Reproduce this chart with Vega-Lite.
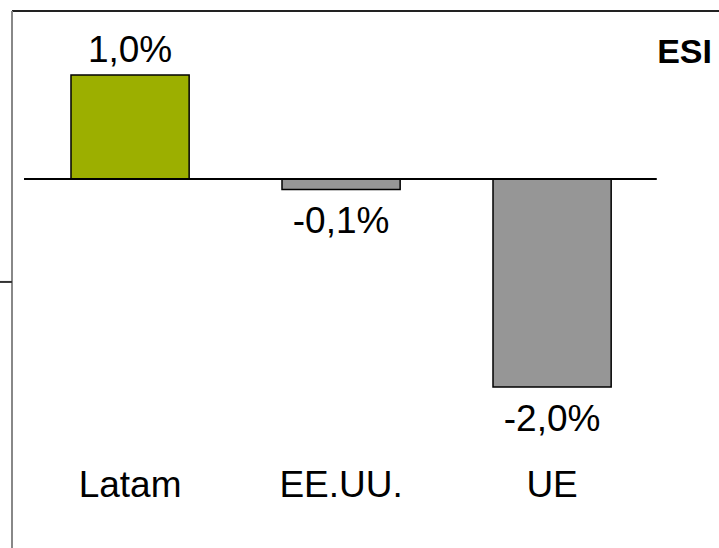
{
  "$schema": "https://vega.github.io/schema/vega-lite/v6.json",
  "width": 707,
  "height": 537,
  "autosize": {"type": "none"},
  "padding": {"left": 12, "top": 11, "right": 0, "bottom": 0},
  "background": "white",
  "config": {"view": {"stroke": null}, "text": {"font": "Liberation Sans"}},
  "data": {"values": [
    {"region": "Latam", "value": 1.0, "label": "1,0%"},
    {"region": "EE.UU.", "value": -0.1, "label": "-0,1%"},
    {"region": "UE", "value": -2.0, "label": "-2,0%"}
  ]},
  "resolve": {"scale": {"x": "independent"}},
  "layer": [
    {
      "layer": [
        {
          "mark": {"type": "bar", "stroke": "#000000", "strokeWidth": 1.5},
          "encoding": {
            "x": {"field": "region", "type": "nominal", "sort": null, "axis": null,
                  "scale": {"paddingInner": 0.44, "paddingOuter": 0.3953, "align": 0.3536}},
            "y": {"field": "value", "type": "quantitative", "axis": null,
                  "scale": {"domain": [-3.548, 1.615], "nice": false}},
            "color": {"field": "region", "type": "nominal", "legend": null,
                      "scale": {"domain": ["Latam", "EE.UU.", "UE"], "range": ["#9CAF00", "#969696", "#969696"]}}
          }
        },
        {
          "transform": [{"filter": "datum.value >= 0"}],
          "mark": {"type": "text", "baseline": "alphabetic", "dy": -13, "fontSize": 37, "color": "#000000"},
          "encoding": {
            "x": {"field": "region", "type": "nominal", "sort": null, "axis": null},
            "y": {"field": "value", "type": "quantitative"},
            "text": {"field": "label"}
          }
        },
        {
          "transform": [{"filter": "datum.value < 0"}],
          "mark": {"type": "text", "baseline": "alphabetic", "dy": 44, "fontSize": 37, "color": "#000000"},
          "encoding": {
            "x": {"field": "region", "type": "nominal", "sort": null, "axis": null},
            "y": {"field": "value", "type": "quantitative"},
            "text": {"field": "label"}
          }
        },
        {
          "mark": {"type": "text", "baseline": "alphabetic", "fontSize": 37, "color": "#000000"},
          "encoding": {
            "x": {"field": "region", "type": "nominal", "sort": null, "axis": null},
            "y": {"datum": -3.058, "type": "quantitative"},
            "text": {"field": "region"}
          }
        }
      ]
    },
    {
      "data": {"values": [{}]},
      "layer": [
        {
          "mark": {"type": "rule", "color": "#222222", "strokeWidth": 2},
          "encoding": {
            "x": {"datum": 0, "type": "quantitative", "axis": null, "scale": {"domain": [0, 1], "nice": false, "zero": false}},
            "x2": {"datum": 1},
            "y": {"datum": 1.615, "type": "quantitative"}
          }
        },
        {
          "mark": {"type": "rule", "color": "#888888", "strokeWidth": 2},
          "encoding": {
            "x": {"datum": 0, "type": "quantitative", "axis": null},
            "y": {"datum": 1.615, "type": "quantitative"},
            "y2": {"datum": -3.548}
          }
        },
        {
          "mark": {"type": "rule", "color": "#000000", "strokeWidth": 2},
          "encoding": {
            "x": {"datum": 0.017, "type": "quantitative", "axis": null},
            "x2": {"datum": 0.912},
            "y": {"datum": 0, "type": "quantitative"}
          }
        },
        {
          "mark": {"type": "rule", "color": "#333333", "strokeWidth": 2},
          "encoding": {
            "x": {"datum": -0.017, "type": "quantitative", "axis": null},
            "x2": {"datum": 0},
            "y": {"datum": -0.99, "type": "quantitative"}
          }
        },
        {
          "mark": {"type": "text", "text": "ESI", "fontWeight": "bold", "fontSize": 34, "align": "right", "baseline": "alphabetic", "dx": -7, "color": "#000000"},
          "encoding": {
            "x": {"datum": 1, "type": "quantitative", "axis": null},
            "y": {"datum": 1.115, "type": "quantitative"}
          }
        }
      ]
    }
  ]
}
